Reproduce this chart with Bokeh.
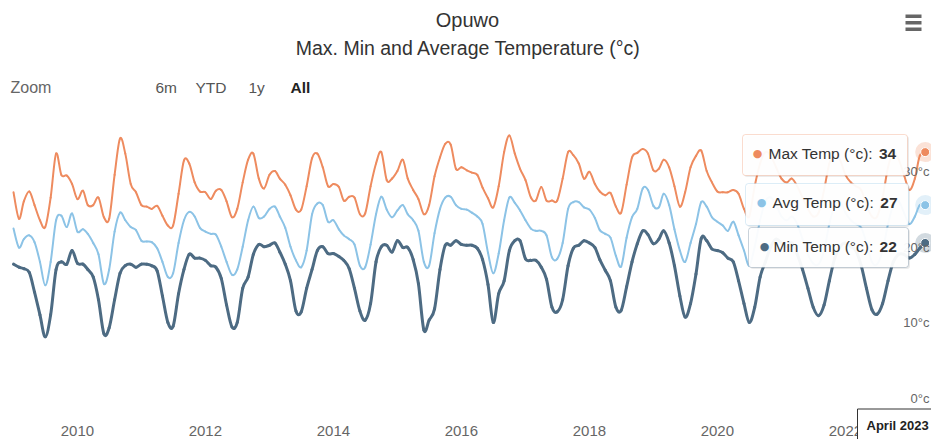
import pandas as pd
from bokeh.plotting import figure
from bokeh.models import Range1d, Label, BoxAnnotation, ColumnDataSource
from bokeh.embed import file_html
from bokeh.resources import INLINE

# ---------------- data ----------------
chart_title = "Opuwo"
chart_subtitle = "Max. Min and Average Temperature (°c)"
first_month = "2009-01"
series_names = ["Max Temp (°c)", "Avg Temp (°c)", "Min Temp (°c)"]

max_temp = [
    28.7, 25.2, 27.5, 28.8, 27.0, 25.0, 24.1, 28.0, 33.8, 31.0, 30.9, 29.8,   # 2009
    27.8, 28.9, 27.0, 27.0, 28.0, 25.4, 25.2, 31.0, 35.8, 33.8, 29.8, 28.7,   # 2010
    27.0, 26.8, 26.5, 26.9, 25.6, 24.3, 24.3, 28.5, 32.9, 32.5, 30.0, 28.8,   # 2011
    28.7, 27.8, 28.9, 29.0, 27.5, 25.4, 26.5, 30.0, 33.0, 33.8, 30.5, 29.2,   # 2012
    31.0, 31.5, 30.5, 29.7, 28.3, 26.4, 26.4, 29.5, 33.2, 33.8, 32.0, 29.5,   # 2013
    29.8, 29.4, 27.6, 28.1, 28.0, 25.8, 25.9, 29.5, 32.5, 34.0, 30.3, 30.5,   # 2014
    31.5, 33.0, 30.5, 29.0, 27.8, 25.8, 27.0, 30.8, 33.3, 35.1, 35.0, 31.8,   # 2015
    32.0, 31.6, 31.3, 31.0, 29.3, 27.9, 26.7, 29.5, 34.0, 36.2, 33.8, 31.8,   # 2016
    30.3, 28.0, 27.6, 29.4, 27.6, 27.6, 27.6, 30.5, 34.0, 33.6, 32.5, 30.5,   # 2017
    31.4, 29.8, 28.8, 28.3, 28.6, 26.8, 26.0, 29.7, 33.3, 33.9, 34.4, 33.8,   # 2018
    31.6, 31.8, 33.0, 32.0, 29.5, 26.8, 28.7, 32.0, 33.5, 34.2, 31.5, 30.0,   # 2019
    28.8, 28.7, 28.7, 29.0, 28.5, 26.5, 25.5, 29.5, 32.5, 34.0, 33.5, 32.0,   # 2020
    30.5, 30.0, 30.5, 29.5, 28.0, 26.5, 25.5, 26.0, 29.0, 32.5, 34.0, 33.0,   # 2021
    31.0, 30.0, 29.5, 29.0, 27.0, 25.5, 25.5, 28.0, 32.0, 34.0, 33.0, 31.0,   # 2022
    29.0, 30.5, 33.5, 34.0,                                                   # 2023
]
avg_temp = [
    23.9, 21.4, 22.5, 23.0, 22.1, 19.5, 16.4, 19.5, 25.0, 25.6, 24.1, 25.9,   # 2009
    23.5, 23.8, 23.2, 22.0, 20.5, 16.6, 18.5, 23.5, 26.0, 25.0, 24.1, 23.7,   # 2010
    22.3, 22.2, 22.1, 21.3, 19.5, 17.5, 18.0, 22.0, 25.0, 26.1, 25.5, 24.0,   # 2011
    23.5, 23.2, 23.1, 21.5, 19.5, 17.8, 18.5, 21.5, 25.0, 26.8, 25.3, 25.5,   # 2012
    26.5, 26.8, 25.5, 24.0, 21.5, 19.7, 18.8, 21.0, 25.8, 27.2, 27.0, 24.8,   # 2013
    25.0, 23.8, 23.0, 22.5, 21.8, 19.0, 18.8, 21.8, 25.8, 28.1, 26.4, 25.4,   # 2014
    26.3, 27.0, 25.8, 25.0, 23.6, 19.5, 19.0, 23.3, 26.5, 28.0, 28.1, 27.0,   # 2015
    26.5, 26.4, 26.0, 25.5, 24.5, 20.7, 18.0, 20.6, 25.0, 28.0, 27.3, 26.3,   # 2016
    25.0, 23.9, 23.6, 23.6, 23.0, 20.1, 19.9, 22.0, 26.5, 27.4, 27.4, 26.7,   # 2017
    26.4, 25.3, 23.7, 23.2, 22.7, 20.3, 18.9, 22.7, 25.4, 26.5, 29.2, 29.0,   # 2018
    26.9, 26.7, 28.5, 27.0, 23.8, 21.0, 19.5, 22.0, 24.5, 27.4, 26.8, 25.4,   # 2019
    24.8, 24.3, 23.6, 24.8, 23.0, 21.0, 19.0, 21.5, 25.0, 27.5, 28.0, 27.0,   # 2020
    25.5, 25.0, 25.5, 24.5, 22.5, 20.5, 19.3, 19.2, 21.0, 24.5, 27.0, 27.5,   # 2021
    26.0, 25.0, 24.5, 24.0, 22.0, 19.5, 19.2, 21.0, 24.5, 27.0, 27.5, 26.0,   # 2022
    24.5, 25.5, 27.0, 27.0,                                                   # 2023
]
min_temp = [
    19.2, 18.8, 18.6, 18.1, 15.5, 12.5, 9.6, 12.5, 18.5, 19.5, 19.2, 21.0,    # 2009
    19.3, 19.2, 18.5, 17.5, 14.5, 10.0, 10.8, 14.5, 18.0, 19.0, 19.2, 18.8,   # 2010
    19.2, 19.2, 19.0, 18.3, 15.0, 11.5, 11.0, 15.3, 18.5, 20.5, 20.0, 20.0,   # 2011
    19.7, 19.0, 18.8, 17.3, 13.8, 10.9, 11.5, 16.0, 17.5, 20.5, 21.8, 21.5,   # 2012
    21.7, 22.0, 20.8, 19.2, 17.0, 13.0, 12.9, 16.0, 18.5, 21.0, 21.5, 20.6,   # 2013
    20.6, 20.2, 19.7, 18.6, 16.0, 13.0, 11.8, 14.0, 19.5, 21.5, 21.7, 20.8,   # 2014
    22.3, 21.4, 21.4, 19.8, 16.6, 10.5, 11.8, 13.3, 18.5, 21.7, 21.7, 22.3,   # 2015
    21.8, 21.7, 21.7, 21.3, 19.8, 16.5, 11.5, 15.3, 17.0, 21.0, 22.3, 22.3,   # 2016
    19.9, 19.7, 19.7, 18.8, 17.2, 13.5, 12.9, 14.5, 19.0, 21.3, 21.7, 22.3,   # 2017
    22.0, 21.4, 19.8, 18.4, 17.0, 13.5, 13.1, 16.2, 19.5, 21.9, 23.6, 23.1,   # 2018
    21.9, 22.5, 23.6, 22.0, 19.0, 15.0, 12.2, 14.0, 17.9, 22.6, 22.3, 21.2,   # 2019
    21.0, 20.7, 20.0, 19.5, 17.0, 14.0, 11.5, 13.5, 17.5, 19.5, 21.5, 22.5,   # 2020
    22.0, 21.5, 22.0, 20.5, 18.5, 16.0, 13.5, 12.4, 13.8, 17.0, 20.0, 21.5,   # 2021
    22.0, 21.5, 21.0, 19.0, 16.0, 13.2, 12.6, 14.0, 17.0, 19.5, 20.5, 20.5,   # 2022
    20.0, 20.5, 21.3, 22.0,                                                   # 2023
]
x_tick_years = [2010, 2012, 2014, 2016, 2018, 2020, 2022]
y_tick_values = [0, 10, 20, 30]
zoom_label = "Zoom"
range_buttons = ["6m", "YTD", "1y", "All"]

assert len(max_temp) == len(avg_temp) == len(min_temp)
months = pd.date_range(first_month, periods=len(max_temp), freq="MS")

# ---------------- styling / layout ----------------
MAX_COLOR = "#ee8b5f"
AVG_COLOR = "#8cc3e6"
MIN_COLOR = "#4d6b83"
FONT = "Liberation Sans"

W, H = 931, 439
PX_PER_DAY = 64.0 / 365.25      # horizontal scale
X_FIRST_PAGE = 13.0             # pixel of the first month
PX_PER_DEG = 7.57               # vertical scale
Y_ZERO_PAGE = 409.0             # pixel of 0 deg C
T0 = months[0]


def xd(px):
    """pixel x -> data x (ms)"""
    return (T0 + pd.Timedelta(days=(px - X_FIRST_PAGE) / PX_PER_DAY)).value / 1e6


def yd(py):
    """pixel y -> data y (deg C)"""
    return (Y_ZERO_PAGE - py) / PX_PER_DEG


ARIAL_W = {'M': .833, 'a': .556, 'x': .5, ' ': .278, 'T': .611, 'e': .556, 'm': .833,
           'p': .556, '(': .333, '°': .4, 'c': .5, ')': .333, ':': .278, 'A': .667,
           'v': .5, 'g': .556, 'i': .222, 'n': .556}


def text_w(s, size):
    return sum(ARIAL_W.get(ch, .556) for ch in s) * size


p = figure(width=W, height=H, x_axis_type="datetime",
           x_axis_location=None, y_axis_location=None,
           x_range=Range1d(xd(0), xd(W)), y_range=Range1d(yd(H), yd(0)),
           output_backend="svg", toolbar_location=None,
           min_border_left=0, min_border_right=0, min_border_top=0, min_border_bottom=0)
p.outline_line_color = None
p.grid.visible = False
p.background_fill_color = "white"
p.border_fill_color = "white"

# ---------------- series (smooth spline through the monthly points) ----------------
xs = [m.value / 1e6 for m in months]


def spline_source(vals):
    n = len(vals)
    d = dict(x0=[], y0=[], x1=[], y1=[], cx0=[], cy0=[], cx1=[], cy1=[])
    for i in range(n - 1):
        ip, i2 = max(i - 1, 0), min(i + 2, n - 1)
        d["x0"].append(xs[i]); d["y0"].append(vals[i])
        d["x1"].append(xs[i + 1]); d["y1"].append(vals[i + 1])
        d["cx0"].append(xs[i] + (xs[i + 1] - xs[ip]) / 6)
        d["cy0"].append(vals[i] + (vals[i + 1] - vals[ip]) / 6)
        d["cx1"].append(xs[i + 1] - (xs[i2] - xs[i]) / 6)
        d["cy1"].append(vals[i + 1] - (vals[i2] - vals[i]) / 6)
    return ColumnDataSource(d)


for vals, col, lw in [(max_temp, MAX_COLOR, 2), (avg_temp, AVG_COLOR, 2), (min_temp, MIN_COLOR, 3)]:
    p.bezier(x0="x0", y0="y0", x1="x1", y1="y1", cx0="cx0", cy0="cy0", cx1="cx1", cy1="cy1",
             source=spline_source(vals), line_color=col, line_width=lw, line_cap="round")

# hover markers on the last point
last = months[-1]
for vals, col in [(max_temp, MAX_COLOR), (avg_temp, AVG_COLOR), (min_temp, MIN_COLOR)]:
    p.scatter([last], [vals[-1]], size=20, fill_color=col, fill_alpha=0.25, line_color=None)
    p.scatter([last], [vals[-1]], size=9, fill_color=col, line_color="white", line_width=1)

# x tick labels (every second year)
for yr in x_tick_years:
    p.add_layout(Label(x=pd.Timestamp(f"{yr}-01-01").value / 1e6, y=yd(430), text=str(yr),
                       text_align="center", text_baseline="middle", text_font=FONT,
                       text_font_size="15px", text_color="#666666"))

# y tick labels (inside plot, right)
for t in y_tick_values:
    p.add_layout(Label(x=xd(929), y=t + 11 / PX_PER_DEG, text=f"{t}°c", text_align="right",
                       text_baseline="middle", text_font=FONT, text_font_size="13px",
                       text_color="#666666"))

# header texts
p.add_layout(Label(x=xd(467), y=yd(19), text=chart_title, text_align="center",
                   text_baseline="middle", text_font=FONT, text_font_size="20px",
                   text_color="#333333"))
p.add_layout(Label(x=xd(468), y=yd(47), text=chart_subtitle, text_align="center",
                   text_baseline="middle", text_font=FONT, text_font_size="19.5px",
                   text_color="#333333"))

# range selector
p.add_layout(Label(x=xd(10), y=yd(87), text=zoom_label, text_baseline="middle",
                   text_font=FONT, text_font_size="16px", text_color="#666666"))
for lab, px in zip(range_buttons, [155, 195, 248, 290]):
    bold = lab == "All"
    p.add_layout(Label(x=xd(px), y=yd(87), text=lab, text_baseline="middle",
                       text_font=FONT, text_font_size="15.5px",
                       text_font_style="bold" if bold else "normal",
                       text_color="#222222" if bold else "#555555"))

# hamburger menu icon
for top in [14, 20.5, 27]:
    p.add_layout(BoxAnnotation(left=xd(905), right=xd(921), top=yd(top), bottom=yd(top + 3.5),
                               fill_color="#666666", fill_alpha=1, line_color=None))

# split tooltips
tips = [
    (series_names[0], max_temp[-1], MAX_COLOR, (742, 907, 134, 175), 757, 768, 153),
    (series_names[1], avg_temp[-1], AVG_COLOR, (745, 908, 183, 225), 761, 772, 202),
    (series_names[2], min_temp[-1], MIN_COLOR, (748, 908, 227, 267), 764, 773, 246),
]
TIP_SIZE = 15.5
for name, val, col, (l, r, t, b), dotx, tx, cy in tips:
    p.add_layout(BoxAnnotation(left=xd(l + 1.5), right=xd(r + 1.5), top=yd(t + 1.5), bottom=yd(b + 1.5),
                               fill_color="#000000", fill_alpha=0.08, line_color=None,
                               border_radius=3, level="overlay"))
    p.add_layout(BoxAnnotation(left=xd(l), right=xd(r), top=yd(t), bottom=yd(b),
                               fill_color="white", fill_alpha=0.95, line_color=col,
                               line_width=1, border_radius=3, level="overlay"))
    p.add_layout(Label(x=xd(dotx), y=yd(cy), text="●", text_align="center",
                       text_baseline="middle", text_font="DejaVu Sans", text_font_size="11px",
                       text_color=col, level="overlay"))
    prefix = f"{name}: "
    p.add_layout(Label(x=xd(tx), y=yd(cy), text=prefix, text_baseline="middle",
                       text_font=FONT, text_font_size=f"{TIP_SIZE}px", text_color="#333333",
                       level="overlay"))
    p.add_layout(Label(x=xd(tx + text_w(prefix, TIP_SIZE)), y=yd(cy), text=f"{round(val)}",
                       text_baseline="middle", text_font=FONT, text_font_size=f"{TIP_SIZE}px",
                       text_font_style="bold", text_color="#333333", level="overlay"))

# crosshair label on the x axis (box left edge at ~857px, text begins ~10px inside)
p.add_layout(Label(x=xd(857), y=yd(425), text=last.strftime("%B %Y"), text_baseline="middle",
                   text_font=FONT, text_font_size="13px", text_font_style="bold",
                   text_color="#222222", background_fill_color="white",
                   border_line_color="#333333", border_line_width=1, padding=9,
                   level="overlay"))

open("out.html", "w").write(file_html(p, INLINE))
